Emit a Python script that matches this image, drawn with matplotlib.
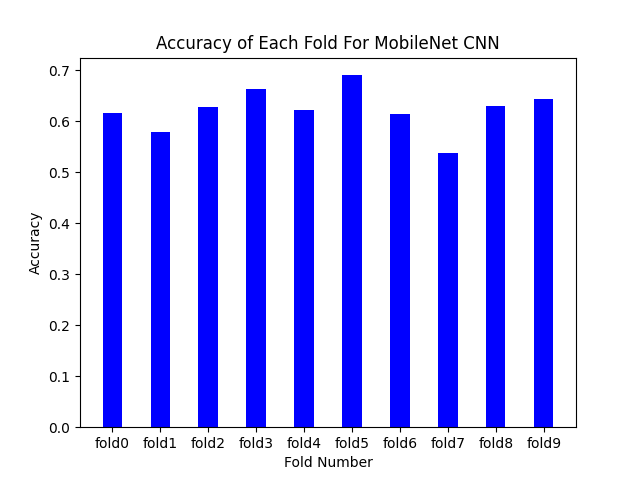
import matplotlib
matplotlib.use("Agg")
from matplotlib import pyplot as plt

folds = ["fold0", "fold1", "fold2", "fold3", "fold4", "fold5", "fold6", "fold7", "fold8", "fold9"]
accuracy = [0.616, 0.578, 0.627, 0.663, 0.622, 0.690, 0.614, 0.537, 0.629, 0.643]

plt.figure(figsize=(6.4, 4.8), dpi=100)
plt.bar(folds, accuracy, color="blue", width=0.4)
plt.xlabel("Fold Number")
plt.ylabel("Accuracy")
plt.title("Accuracy of Each Fold For MobileNet CNN")
plt.savefig("out.png")
